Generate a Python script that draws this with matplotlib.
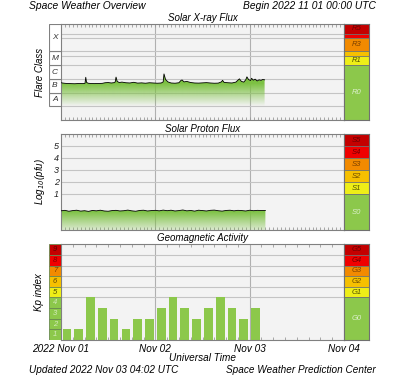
import numpy as np
import matplotlib
matplotlib.use('Agg')
import matplotlib.pyplot as plt
from matplotlib.patches import PathPatch, Rectangle
from matplotlib.colors import to_rgb

plt.rcParams['font.family'] = ['Liberation Sans', 'DejaVu Sans']
plt.rcParams['font.style'] = 'italic'

# GOES X-ray flux (W/m^2), hours since 2022-11-01 00:00 UTC
xray_hours = [0.0, 0.8, 1.5, 2.5, 3.5, 4.5, 5.5, 6.1, 6.3, 6.5, 6.9, 7.5, 8.5, 9.5,
              10.5, 11.2, 12.0, 12.8, 13.5, 13.8, 14.0, 14.3, 14.8, 15.5, 16.5, 17.5,
              18.5, 19.5, 20.5, 21.5, 22.5, 23.5, 24.5, 25.5, 26.0, 26.2, 26.6, 27.2,
              28.0, 29.0, 30.0, 30.5, 30.8, 31.3, 32.0, 33.0, 34.0, 35.0, 36.0, 37.0,
              38.0, 39.0, 40.0, 40.8, 41.1, 41.5, 42.5, 43.5, 44.5, 45.0, 45.4, 45.9,
              46.5, 47.0, 47.3, 47.7, 48.2, 48.5, 48.9, 49.4, 49.9, 50.4, 50.9, 51.3, 51.8]
xray_flux = [5.2e-7, 4.8e-7, 4.6e-7, 4.5e-7, 4.4e-7, 4.6e-7, 4.5e-7, 4.7e-7, 1.3e-6, 5.5e-7,
             4.8e-7, 4.6e-7, 4.5e-7, 4.6e-7, 4.7e-7, 5.2e-7, 5.4e-7, 5.0e-7, 5.3e-7, 6.0e-7,
             1.35e-6, 6.5e-7, 5.4e-7, 5.8e-7, 5.2e-7, 5.0e-7, 5.6e-7, 4.9e-7, 5.1e-7, 4.8e-7,
             5.2e-7, 5.0e-7, 4.8e-7, 5.0e-7, 6.0e-7, 2.3e-6, 9.0e-7, 6.0e-7, 5.0e-7, 4.8e-7,
             5.2e-7, 7.6e-7, 8.3e-7, 6.0e-7, 6.5e-7, 5.4e-7, 5.0e-7, 4.9e-7, 5.1e-7, 5.3e-7,
             5.0e-7, 4.8e-7, 4.9e-7, 6.0e-7, 7.8e-7, 5.5e-7, 5.2e-7, 5.0e-7, 5.8e-7, 8.0e-7,
             1.0e-6, 6.5e-7, 5.8e-7, 8.5e-7, 1.4e-6, 9.0e-7, 7.5e-7, 1.1e-6, 8.0e-7, 9.5e-7,
             7.0e-7, 8.5e-7, 7.8e-7, 9.0e-7, 8.5e-7]

# >=10 MeV proton flux (pfu), hourly
proton_pfu = [0.40, 0.44, 0.37, 0.42, 0.45, 0.38, 0.41, 0.36, 0.43, 0.40, 0.45, 0.39,
              0.37, 0.42, 0.44, 0.39, 0.41, 0.46, 0.40, 0.37, 0.43, 0.45, 0.39, 0.42,
              0.44, 0.40, 0.46, 0.41, 0.45, 0.39, 0.42, 0.47, 0.40, 0.43, 0.38, 0.45,
              0.42, 0.39, 0.44, 0.46, 0.41, 0.38, 0.43, 0.45, 0.40, 0.44, 0.42, 0.39,
              0.45, 0.41, 0.44, 0.42, 0.43]

# planetary Kp, 3-hour intervals
kp_values = [1, 1, 4, 3, 2, 1, 2, 2, 3, 4, 3, 2, 3, 4, 3, 2, 3]

day_labels = ['2022 Nov 01', 'Nov 02', 'Nov 03', 'Nov 04']
flare_classes = ['A', 'B', 'C', 'M', 'X']

DRED, RED, ORANGE, AMBER, YELLOW, GREEN = '#c40000', '#f00000', '#f28a00', '#f6c000', '#eeee18', '#8cc84b'
EDGE = '#808080'
GRID = '#c4c4c4'
BG = '#f3f3f3'

W, H = 400, 377
fig = plt.figure(figsize=(W / 100, H / 100), dpi=100)


def px_axes(x0, y0, x1, y1):
    return fig.add_axes([x0 / W, 1 - y1 / H, (x1 - x0) / W, (y1 - y0) / H])


def ftext(x, y, s, **kw):
    fig.text(x / W, 1 - y / H, s, **kw)


def style_main(ax, ylo, yhi, tick_hours):
    ax.set_xlim(0, 3)
    ax.set_ylim(ylo, yhi)
    ax.set_facecolor(BG)
    for sp in ax.spines.values():
        sp.set_color(EDGE)
        sp.set_linewidth(0.8)
    ax.set_xticks(np.arange(0, 72 + 1, tick_hours) / 24)
    ax.set_yticks([])
    ax.tick_params(axis='x', direction='in', length=2.5, width=0.6, color='#9a9a9a',
                   top=True, bottom=True, labelbottom=False)
    for d in (1, 2):
        ax.axvline(d, color='#b0b0b0', lw=0.8, zorder=1)


def gradient_fill(ax, x, y, ybase, ytop, ybot, stops, alphas):
    coll = ax.fill_between(x, y, ybase, facecolor='none', edgecolor='none')
    clip = PathPatch(coll.get_paths()[0], transform=ax.transData,
                     facecolor='none', edgecolor='none')
    ax.add_patch(clip)
    yy = np.linspace(ytop, ybot, 300)
    rgba = np.zeros((300, 1, 4))
    rgba[..., :3] = to_rgb('#7cc142')
    rgba[:, 0, 3] = np.interp(yy, stops, alphas)
    im = ax.imshow(rgba, extent=[0, 3, ybot, ytop], aspect='auto', origin='upper',
                   interpolation='bilinear', zorder=2)
    im.set_clip_path(clip)


def scale_bar(y0, y1, ylo, yhi, bands):
    ax = px_axes(344, y0, 369, y1)
    ax.set_xlim(0, 1)
    ax.set_ylim(ylo, yhi)
    for lo, hi, col, lab, tcol in bands:
        ax.axhspan(lo, hi, color=col, lw=0)
        ax.axhline(lo, color='#707070', lw=0.6)
        if lab:
            ax.text(0.5, (lo + hi) / 2, lab, ha='center', va='center',
                    fontsize=5.5, color=tcol)
    ax.set_xticks([])
    ax.set_yticks([])
    for sp in ax.spines.values():
        sp.set_color('#707070')
        sp.set_linewidth(0.8)
    return ax


# ---------------- Solar X-ray Flux ----------------
p1 = (24, 120)
ax1 = px_axes(61, p1[0], 344, p1[1])
style_main(ax1, -9, -2, 1)
for lv in [-8, -7, -6, -5, np.log10(5e-5), -4, -3, np.log10(2e-3)]:
    ax1.axhline(lv, color=GRID, lw=0.8, zorder=1)
xd = np.array(xray_hours) / 24
xl = np.log10(xray_flux)
gradient_fill(ax1, xd, xl, -9, -5.4, -9, [-8.0, -6.35, -5.4], [0.0, 1.0, 1.0])
ax1.plot(xd, xl, color='black', lw=0.6, zorder=3)

lc1 = px_axes(49, p1[0], 61, p1[1])
lc1.set_xlim(0, 1)
lc1.set_ylim(-9, -2)
for i, c in enumerate(flare_classes):
    lo = -8 + i
    hi = lo + (2 if c == 'X' else 1)
    lc1.add_patch(Rectangle((0, lo), 1, hi - lo, facecolor='white', edgecolor=EDGE, lw=0.8))
    lc1.text(0.5, (lo + hi) / 2, c, ha='center', va='center', fontsize=6, color='#333333')
lc1.axis('off')

scale_bar(p1[0], p1[1], -9, -2, [
    (-9, -5, GREEN, 'R0', '#dcefcc'),
    (-5, np.log10(5e-5), YELLOW, 'R1', '#505000'),
    (np.log10(5e-5), -4, AMBER, '', 'k'),
    (-4, -3, ORANGE, 'R3', '#7a4000'),
    (-3, np.log10(2e-3), RED, '', 'k'),
    (np.log10(2e-3), -2, DRED, 'R5', '#6a0000'),
])

# ---------------- Solar Proton Flux ----------------
p2 = (134.3, 230)
ax2 = px_axes(61, p2[0], 344, p2[1])
style_main(ax2, -2, 6, 1)
for lv in range(1, 6):
    ax2.axhline(lv, color=GRID, lw=0.8, zorder=1)
ph = np.arange(len(proton_pfu)) / 24
pl = np.log10(proton_pfu)
gradient_fill(ax2, ph, pl, -2, -0.2, -2, [-2, -0.45], [0.2, 1.0])
ax2.plot(ph, pl, color='black', lw=0.6, zorder=3)
for lv in range(1, 6):
    ax2.text(-0.025, lv, str(lv), ha='right', va='center', fontsize=6.5,
             color='#222222', transform=ax2.transData)

scale_bar(p2[0], p2[1], -2, 6, [
    (-2, 1, GREEN, 'S0', '#dcefcc'),
    (1, 2, YELLOW, 'S1', '#505000'),
    (2, 3, AMBER, 'S2', '#6a4a00'),
    (3, 4, ORANGE, 'S3', '#7a4000'),
    (4, 5, RED, 'S4', '#6a0000'),
    (5, 6, DRED, 'S5', '#6a0000'),
])

# ---------------- Geomagnetic Activity ----------------
p3 = (244.3, 340)
ax3 = px_axes(61, p3[0], 344, p3[1])
style_main(ax3, 0, 9, 3)
for lv in range(4, 9):
    ax3.axhline(lv, color=GRID, lw=0.8, zorder=1)
kx = (np.arange(len(kp_values)) * 3 + 1.5) / 24
ax3.bar(kx, kp_values, width=2.2 / 24, color=GREEN, zorder=2)
ax3.set_xticks([0, 1, 2, 3], minor=False)
ax3.tick_params(axis='x', which='major', labelbottom=True, labelsize=7.2, pad=3,
                length=0)
ax3.set_xticks(np.arange(0, 73, 3) / 24, minor=True)
ax3.tick_params(axis='x', which='minor', direction='in', length=2.5, width=0.6,
                color='#9a9a9a', top=True, bottom=True)
ax3.set_xticklabels(day_labels)
for t in ax3.get_xticklabels():
    t.set_style('italic')

lc3 = px_axes(49, p3[0], 61, p3[1])
lc3.set_xlim(0, 1)
lc3.set_ylim(0, 9)
kp_cols = [GREEN, GREEN, GREEN, GREEN, YELLOW, AMBER, ORANGE, RED, DRED]
kp_tcol = ['#d4ecbc'] * 4 + ['#505000', '#6a4a00', '#7a4000', '#800000', '#600000']
for i in range(9):
    lc3.add_patch(Rectangle((0, i), 1, 1, facecolor=kp_cols[i], edgecolor='#6a8a50', lw=0.6))
    lc3.text(0.5, i + 0.5, str(i + 1), ha='center', va='center', fontsize=5.5,
             color=kp_tcol[i])
lc3.axis('off')

scale_bar(p3[0], p3[1], 0, 9, [
    (0, 4, GREEN, 'G0', '#dcefcc'),
    (4, 5, YELLOW, 'G1', '#505000'),
    (5, 6, AMBER, 'G2', '#6a4a00'),
    (6, 7, ORANGE, 'G3', '#7a4000'),
    (7, 8, RED, 'G4', '#6a0000'),
    (8, 9, DRED, 'G5', '#6a0000'),
])

# ---------------- texts ----------------
ftext(29, 6, 'Space Weather Overview', fontsize=7.4, ha='left', va='center')
ftext(376, 6, 'Begin 2022 11 01 00:00 UTC', fontsize=7.4, ha='right', va='center')
ftext(202.5, 18, 'Solar X-ray Flux', fontsize=7, ha='center', va='center')
ftext(202.5, 129, 'Solar Proton Flux', fontsize=7, ha='center', va='center')
ftext(202.5, 238.5, 'Geomagnetic Activity', fontsize=7, ha='center', va='center')
ftext(40, 72, 'Flare Class', fontsize=7, ha='center', va='center', rotation=90)
ftext(40, 182, r'Log$_{10}$(pfu)', fontsize=7, ha='center', va='center', rotation=90)
ftext(39, 292, 'Kp index', fontsize=7, ha='center', va='center', rotation=90)
ftext(202.5, 358, 'Universal Time', fontsize=7.2, ha='center', va='center')
ftext(29, 370, 'Updated 2022 Nov 03 04:02 UTC', fontsize=7.2, ha='left', va='center')
ftext(376, 370, 'Space Weather Prediction Center', fontsize=7.2, ha='right', va='center')

plt.rcParams['mathtext.default'] = 'it'
fig.savefig('out.png', dpi=100, facecolor='white')
